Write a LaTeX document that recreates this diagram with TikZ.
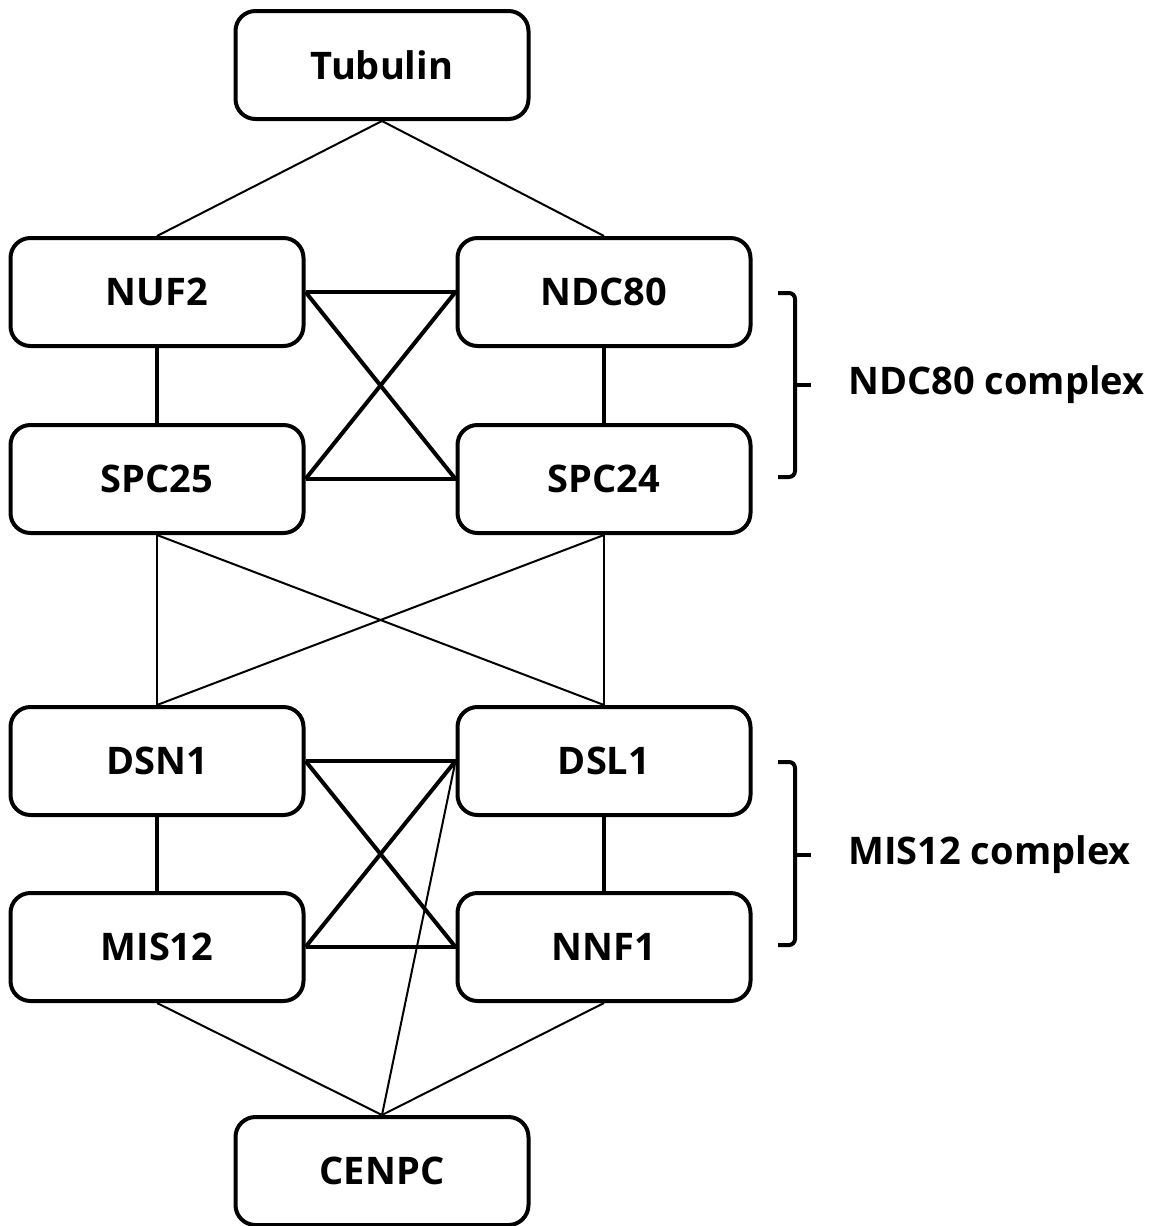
\documentclass[tikz,border=0pt]{standalone}
\usepackage{fontspec}
\setmainfont{Open Sans}
\begin{document}
\begin{tikzpicture}[x=0.5pt,y=-0.5pt,
  protbox/.style={draw, line width=2pt, rounded corners=10pt, minimum width=146.5pt, minimum height=54pt, inner sep=0pt, font=\fontsize{19}{22}\selectfont\bfseries},
  thinlink/.style={line width=1pt},
  thicklink/.style={line width=2pt},
  bracketline/.style={line width=2pt, rounded corners=3pt},
  lbl/.style={anchor=west, inner sep=0pt, font=\fontsize{19}{22}\selectfont\bfseries}]
\useasboundingbox (0,0) rectangle (1158,1226);
\node[protbox] (tub) at (382,65) {Tubulin};
\node[protbox] (nuf2) at (157,292) {NUF2};
\node[protbox] (ndc80) at (604,292) {NDC80};
\node[protbox] (spc25) at (157,479) {SPC25};
\node[protbox] (spc24) at (604,479) {SPC24};
\node[protbox] (dsn1) at (157,761) {DSN1};
\node[protbox] (dsl1) at (604,761) {DSL1};
\node[protbox] (mis12) at (157,947) {MIS12};
\node[protbox] (nnf1) at (604,947) {NNF1};
\node[protbox] (cenpc) at (382,1171) {CENPC};
% tubulin links
\draw[thinlink] (tub.south) -- (nuf2.north);
\draw[thinlink] (tub.south) -- (ndc80.north);
% NDC80 complex
\draw[thicklink] (nuf2.east) -- (ndc80.west);
\draw[thicklink] (spc25.east) -- (spc24.west);
\draw[thicklink] (nuf2.east) -- (spc24.west);
\draw[thicklink] (spc25.east) -- (ndc80.west);
\draw[thicklink] (nuf2.south) -- (spc25.north);
\draw[thicklink] (ndc80.south) -- (spc24.north);
% between complexes
\draw[thinlink] (spc25.south) -- (dsn1.north);
\draw[thinlink] (spc25.south) -- (dsl1.north);
\draw[thinlink] (spc24.south) -- (dsn1.north);
\draw[thinlink] (spc24.south) -- (dsl1.north);
% MIS12 complex
\draw[thicklink] (dsn1.east) -- (dsl1.west);
\draw[thicklink] (mis12.east) -- (nnf1.west);
\draw[thicklink] (dsn1.east) -- (nnf1.west);
\draw[thicklink] (mis12.east) -- (dsl1.west);
\draw[thicklink] (dsn1.south) -- (mis12.north);
\draw[thicklink] (dsl1.south) -- (nnf1.north);
% CENPC links
\draw[thinlink] (mis12.south) -- (cenpc.north);
\draw[thinlink] (nnf1.south) -- (cenpc.north);
\draw[thinlink] (dsl1.west) -- (cenpc.north);
% brackets
\coordinate (b1t) at (778,293);
\coordinate (b1b) at (778,477);
\coordinate (b1m) at (795,385);
\coordinate (b1e) at (811,385);
\draw[bracketline] (b1t) -- (795,293) -- (795,477) -- (b1b);
\draw[line width=2pt] (b1m) -- (b1e);
\node[lbl] (l1) at (848,385) {NDC80 complex};
\coordinate (b2t) at (778,762);
\coordinate (b2b) at (778,945);
\coordinate (b2m) at (795,855);
\coordinate (b2e) at (811,855);
\draw[bracketline] (b2t) -- (795,762) -- (795,945) -- (b2b);
\draw[line width=2pt] (b2m) -- (b2e);
\node[lbl] (l2) at (848,855) {MIS12 complex};
\end{tikzpicture}
\end{document}
